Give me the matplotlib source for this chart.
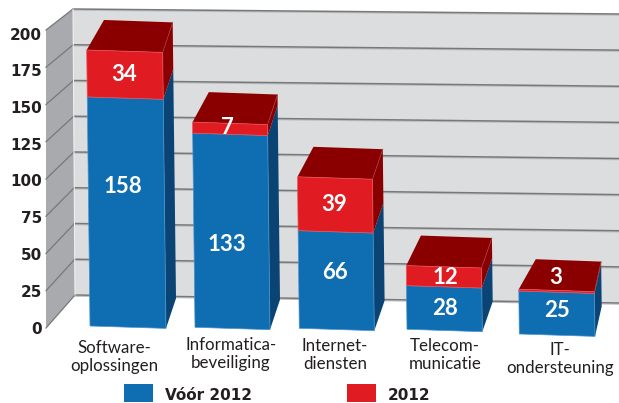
import matplotlib
matplotlib.use('Agg')
import matplotlib.pyplot as plt
from matplotlib.patches import Polygon, Rectangle

# data
categories = ['Software-\noplossingen', 'Informatica-\nbeveiliging', 'Internet-\ndiensten',
              'Telecom-\nmunicatie', 'IT-\nondersteuning']
voor_2012 = [158, 133, 66, 28, 25]
in_2012 = [34, 7, 39, 12, 3]
y_ticks = [0, 25, 50, 75, 100, 125, 150, 175, 200]
legend_labels = ['Vóór 2012', '2012']

# layout of the fake 3d scene, in pixels of the original picture
base_left = [90, 195, 299.3, 407, 519.3]
base_right = [166, 270, 374.3, 482.3, 595]
base_y = [326, 327.3, 328.3, 329.3, 334]
# the original is not drawn quite to scale, so each segment has its own factor
px_voor = [1.45, 1.46, 1.48, 1.56, 1.72]
px_in = [1.38, 1.57, 1.38, 1.67, 0.6]
depth_left = [17.3, 16.3, 16, 14.7, 17]
depth_right = [10, 10, 10.3, 10.4, 6.7]
depth_y = 30
lean = 0.012
label_centers = [114, 231, 335, 445, 560]
label_y = [357, 354, 355, 355, 359]
voor_text_pos = [(123, 186.5), (227, 244.5), (335, 272.5), (445, 308.5), (557, 310.5)]
in_text_pos = [(124, 74.5), (227, 128), (334, 204.5), (445, 278), (556, 277)]

BLUE = '#0f6db2'
DARK_BLUE = '#0a4474'
RED = '#e01b22'
DARK_RED = '#8a0000'
WALL = '#dcdddf'
SIDE_WALL = '#a9aaad'
GRID = '#77787a'
TEXT = '#231f20'


def level_height(i, level):
    # level 0 = floor, 1 = top of the blue part, 2 = top of the red part
    if level == 0:
        return 0
    height = voor_2012[i] * px_voor[i]
    if level == 2:
        height += in_2012[i] * px_in[i]
    return height


def front_point(i, level, right=False):
    height = level_height(i, level)
    y = base_y[i] - height + (2.4 if right else 0)
    x = (base_right[i] if right else base_left[i]) - lean * height
    return x, y


def back_point(i, level, right=False):
    x, y = front_point(i, level, right)
    return x + (depth_right[i] if right else depth_left[i]), y - depth_y


def draw_bar(ax, i):
    # right side faces
    ax.add_patch(Polygon([front_point(i, 0, True), back_point(i, 0, True),
                          back_point(i, 1, True), front_point(i, 1, True)],
                         fc=DARK_BLUE, ec='none', zorder=4))
    ax.add_patch(Polygon([front_point(i, 1, True), back_point(i, 1, True),
                          back_point(i, 2, True), front_point(i, 2, True)],
                         fc=DARK_RED, ec='none', zorder=4))
    # top face
    ax.add_patch(Polygon([front_point(i, 2), back_point(i, 2),
                          back_point(i, 2, True), front_point(i, 2, True)],
                         fc=DARK_RED, ec='none', zorder=4))
    # front faces
    ax.add_patch(Polygon([front_point(i, 0), front_point(i, 1),
                          front_point(i, 1, True), front_point(i, 0, True)],
                         fc=BLUE, ec='#4c93c9', lw=0.5, zorder=5))
    ax.add_patch(Polygon([front_point(i, 1), front_point(i, 2),
                          front_point(i, 2, True), front_point(i, 1, True)],
                         fc=RED, ec='#e8555b', lw=0.5, zorder=5))
    x0, y0 = front_point(i, 2, True)
    x1, y1 = back_point(i, 2, True)
    ax.plot([x0, x1], [y0, y1], color='#a83a3f', lw=0.5, zorder=6)


def main():
    fig = plt.figure(figsize=(6.19, 4.03), dpi=100)
    ax = fig.add_axes([0, 0, 1, 1])
    ax.set_xlim(0, 619)
    ax.set_ylim(403, 0)
    ax.axis('off')

    # walls
    ax.add_patch(Polygon([(46, 30), (73, 9), (75, 295), (46, 328)], fc=SIDE_WALL, ec='none', zorder=1))
    ax.add_patch(Polygon([(73, 9), (619, 14), (619, 303), (75, 295)], fc=WALL, ec='none', zorder=1))

    # gridlines across both walls, plus tick labels
    for v in y_ticks:
        y_back_left = 295 - v * 1.43
        y_back_right = 303 - v * 1.445
        y_front = 328 - v * 1.49
        x_corner = 75 - v * 0.01
        ax.plot([x_corner, 619], [y_back_left + 1.2, y_back_right + 1.2], color='#bcbdbf', lw=0.8, zorder=2)
        ax.plot([x_corner, 619], [y_back_left, y_back_right], color=GRID, lw=1.1, zorder=2)
        ax.plot([46, x_corner], [y_front, y_back_left], color=GRID, lw=0.9, zorder=2)
        ax.text(42, 329 - v * 1.47, str(v), ha='right', va='center', fontsize=11,
                family='DejaVu Sans', weight='bold', color=TEXT, zorder=3)
    ax.plot([75, 73], [295, 9], color='#eeeeef', lw=0.8, zorder=2)

    for i in range(len(categories)):
        draw_bar(ax, i)

    for i, (x, y) in enumerate(voor_text_pos):
        ax.text(x, y, str(voor_2012[i]), ha='center', va='center', color='white',
                fontsize=16, family='Lato', weight='bold', zorder=7)
    for i, (x, y) in enumerate(in_text_pos):
        ax.text(x, y, str(in_2012[i]), ha='center', va='center', color='white',
                fontsize=16, family='Lato', weight='bold', zorder=7)

    for x, y, name in zip(label_centers, label_y, categories):
        ax.text(x, y, name, ha='center', va='center', multialignment='center', color=TEXT,
                fontsize=12.2, family='Lato', linespacing=1.1, zorder=7)

    # legend
    ax.add_patch(Rectangle((124, 384), 29, 18, fc=BLUE, ec='none', zorder=7))
    ax.add_patch(Rectangle((347, 384), 29, 18, fc=RED, ec='none', zorder=7))
    ax.text(165, 395, legend_labels[0], ha='left', va='center', fontsize=11,
            family='DejaVu Sans', weight='bold', color=TEXT, zorder=7)
    ax.text(388, 395, legend_labels[1], ha='left', va='center', fontsize=11,
            family='DejaVu Sans', weight='bold', color=TEXT, zorder=7)

    fig.savefig('out.png', dpi=100)


if __name__ == '__main__':
    main()
